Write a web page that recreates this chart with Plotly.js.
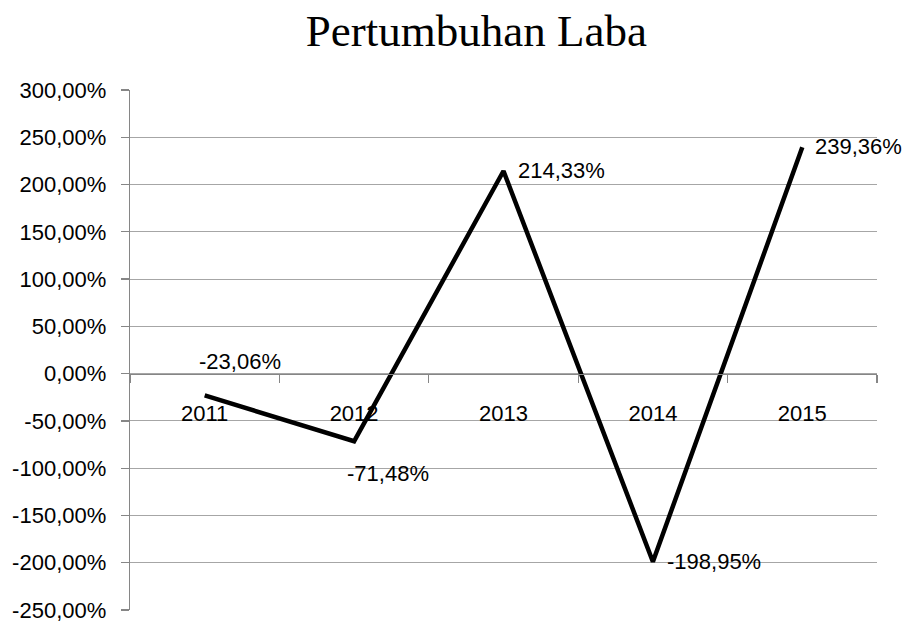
<!DOCTYPE html>
<html>
<head>
<meta charset="utf-8">
<script src="https://cdn.plot.ly/plotly-3.0.1.min.js"></script>
<style>html,body{margin:0;padding:0;background:#fff;}#chart{width:904px;height:621px;}</style>
</head>
<body>
<div id="chart"></div>
<script>
const years = ['2011', '2012', '2013', '2014', '2015'];
const growth = [-23.06, -71.48, 214.33, -198.95, 239.36];
const yTickVals = [300, 250, 200, 150, 100, 50, 0, -50, -100, -150, -200, -250];

function fmt(v) { return v.toFixed(2).replace('.', ',') + '%'; }
const yTickText = yTickVals.map(fmt);

// label offsets in pixels (style only)
const labelShift = [
  {x: -8, y: 34},
  {x: -9, y: -32},
  {x: 12, y: 1},
  {x: 12, y: 0},
  {x: 11, y: 1}
];

const FONT = '"Liberation Sans", Arial, sans-serif';

const trace = {
  type: 'scatter',
  mode: 'lines',
  x: years,
  y: growth,
  line: {color: '#000000', width: 4.5},
  hoverinfo: 'skip'
};

// annotations placed through the category axis (index of each category)
const annotations = years.map((yr, i) => ({
  x: years.indexOf(yr), y: growth[i], xref: 'x', yref: 'y',
  text: fmt(growth[i]), showarrow: false,
  xanchor: 'left', yanchor: 'middle',
  xshift: labelShift[i].x, yshift: labelShift[i].y,
  font: {family: FONT, size: 22, color: '#000'}
}));

const layout = {
  width: 904, height: 621,
  margin: {l: 130, r: 27, t: 90, b: 11, pad: 0},
  paper_bgcolor: '#ffffff', plot_bgcolor: '#ffffff',
  showlegend: false,
  title: {
    text: 'Pertumbuhan Laba',
    font: {family: '"Liberation Serif", "Times New Roman", serif', size: 45, color: '#000'},
    x: 0.527, xanchor: 'center', xref: 'container',
    y: 0.952, yanchor: 'middle', yref: 'container'
  },
  xaxis: {
    type: 'category',
    anchor: 'free', position: 250 / 550,
    showline: true, linecolor: '#868686', linewidth: 1.3,
    ticks: 'outside', tickson: 'boundaries', ticklen: 8, tickcolor: '#868686', tickwidth: 1.3,
    showgrid: false, zeroline: false,
    ticklabelstandoff: 20,
    tickfont: {family: FONT, size: 22, color: '#000'},
    range: [-0.5, 4.5], fixedrange: true
  },
  yaxis: {
    range: [-250, 300],
    tickvals: yTickVals, ticktext: yTickText,
    showline: true, linecolor: '#868686', linewidth: 1.3,
    ticks: 'outside', ticklen: 8, tickcolor: '#868686', tickwidth: 1.3,
    showgrid: true, gridcolor: '#a6a6a6', gridwidth: 1,
    zeroline: false,
    ticklabelstandoff: 10,
    ticklabeloverflow: 'allow',
    tickfont: {family: FONT, size: 22, color: '#000'},
    fixedrange: true
  },
  annotations: annotations
};

Plotly.newPlot('chart', [trace], layout, {displayModeBar: false, staticPlot: true});
</script>
</body>
</html>
